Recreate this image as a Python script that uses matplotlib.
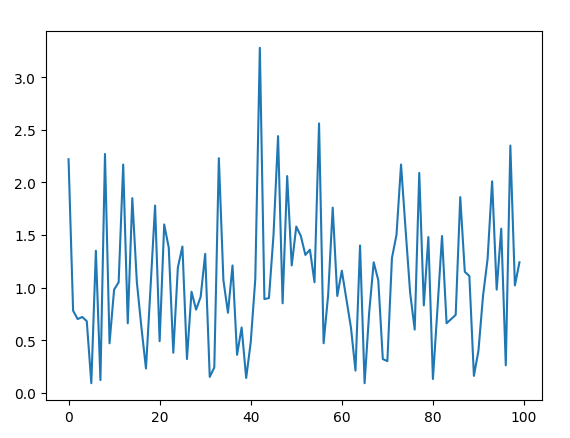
import matplotlib
matplotlib.use("Agg")
import matplotlib.pyplot as plt
import numpy as np

values = [
    2.22, 0.78, 0.70, 0.72, 0.68, 0.09, 1.35, 0.12, 2.27, 0.47,
    0.98, 1.05, 2.17, 0.66, 1.85, 1.05, 0.62, 0.23, 1.00, 1.78,
    0.49, 1.60, 1.38, 0.38, 1.19, 1.39, 0.32, 0.96, 0.79, 0.91,
    1.32, 0.15, 0.24, 2.23, 1.07, 0.76, 1.21, 0.36, 0.62, 0.14,
    0.48, 1.08, 3.28, 0.89, 0.90, 1.50, 2.44, 0.85, 2.06, 1.21,
    1.58, 1.49, 1.31, 1.36, 1.05, 2.56, 0.47, 0.93, 1.76, 0.92,
    1.16, 0.89, 0.62, 0.21, 1.40, 0.09, 0.76, 1.24, 1.07, 0.32,
    0.30, 1.28, 1.50, 2.17, 1.55, 0.95, 0.60, 2.09, 0.83, 1.48,
    0.13, 0.80, 1.49, 0.66, 0.70, 0.74, 1.86, 1.15, 1.11, 0.16,
    0.40, 0.92, 1.27, 2.01, 0.98, 1.56, 0.26, 2.35, 1.02, 1.24,
]
x = list(range(len(values)))

fig = plt.figure(figsize=(5.70, 4.39), dpi=100)
ax = fig.add_axes([46 / 570, 38 / 439, 496 / 570, 369 / 439])
ax.plot(x, values, color="#1f77b4", linewidth=1.5)
fig.savefig("out.png", dpi=100)
